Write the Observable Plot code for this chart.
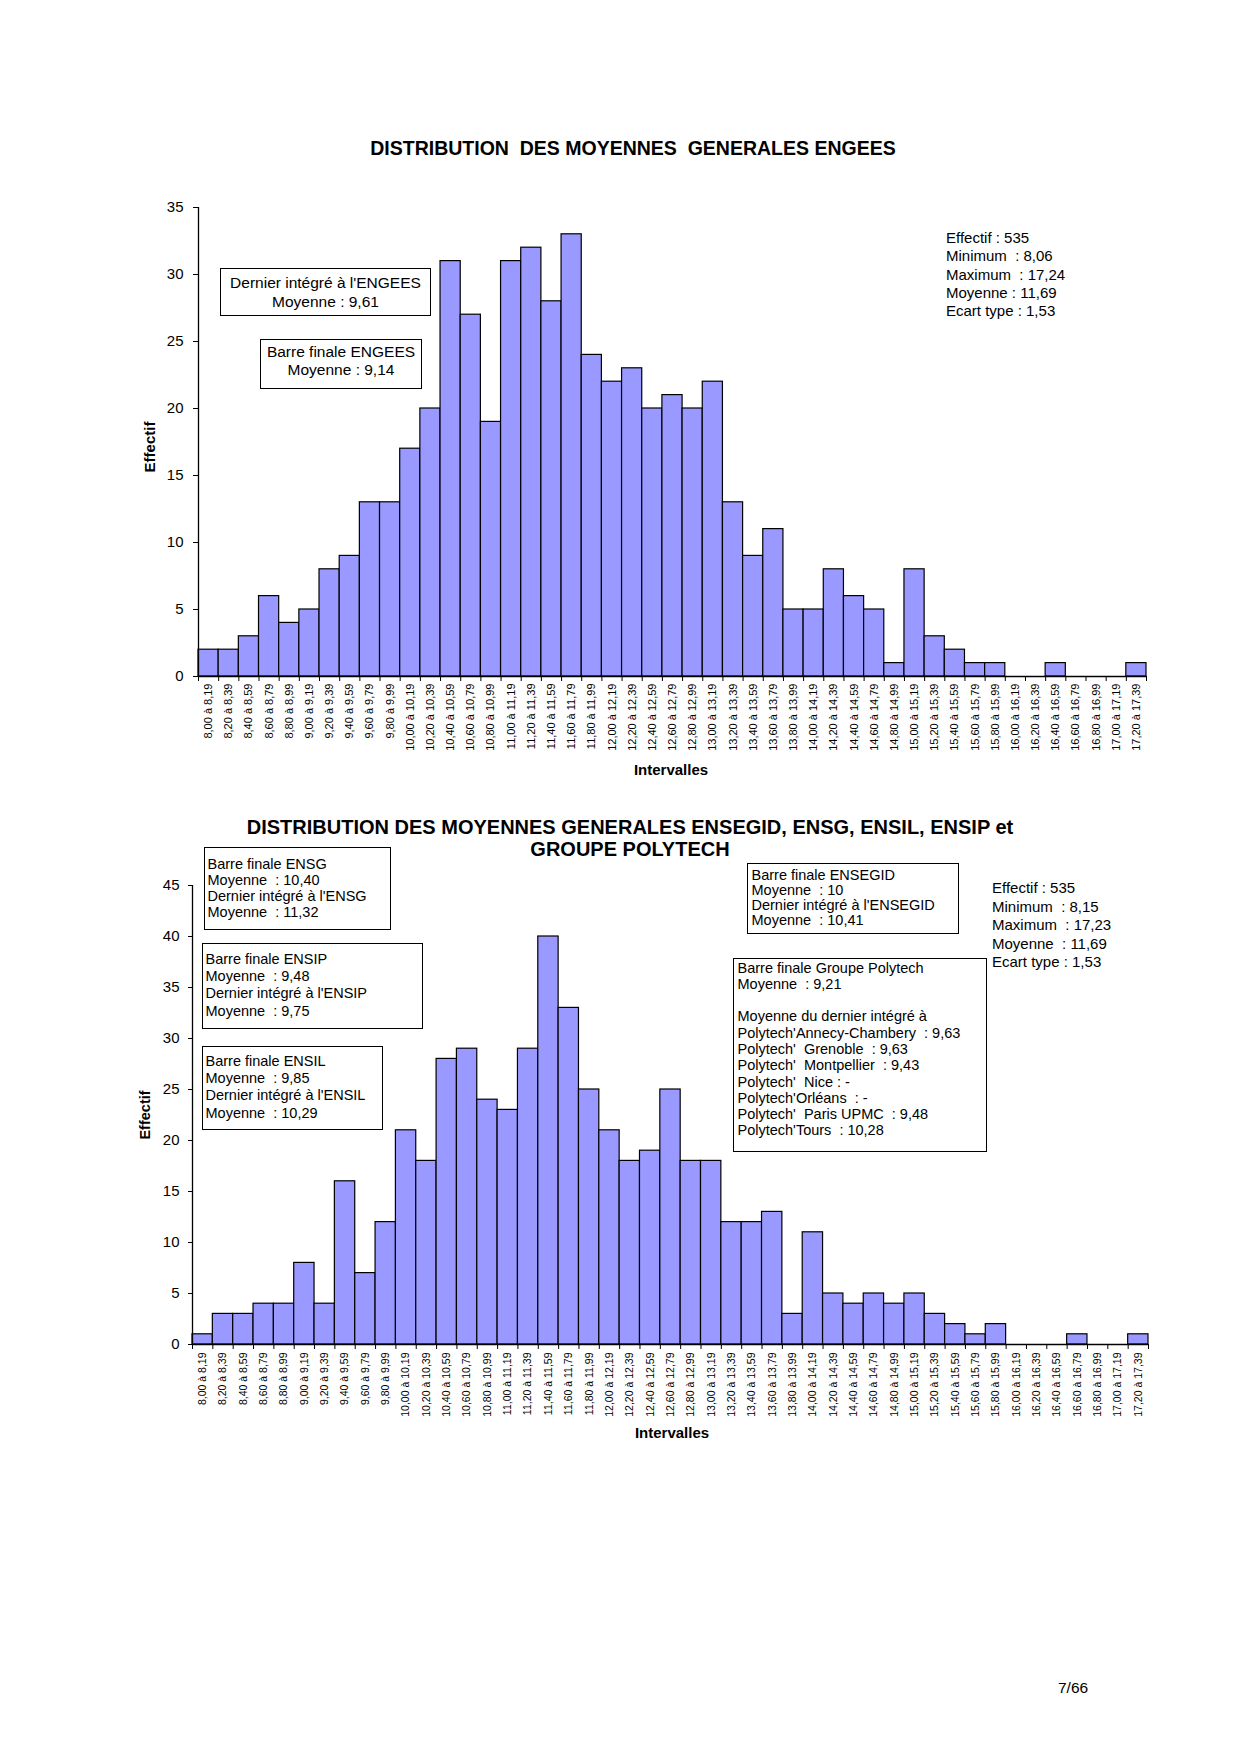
<!DOCTYPE html>
<html>
<head>
<meta charset="utf-8">
<script src="https://cdn.jsdelivr.net/npm/d3@7"></script>
<script src="https://cdn.jsdelivr.net/npm/@observablehq/plot@0.6"></script>
<style>
html, body { margin: 0; padding: 0; background: #fff; }
#page { position: relative; width: 1240px; height: 1754px; background: #fff; overflow: hidden;
  font-family: "Liberation Sans", Arial, Helvetica, sans-serif; color: #000; }
.abs { position: absolute; white-space: pre; }
.box { position: absolute; box-sizing: border-box; border: 1.5px solid #000; background: #fff; white-space: pre; }
.chart { position: absolute; left: 0; }
</style>
</head>
<body>
<div id="page"></div>
<script>
// ---------- Data ----------
const intervalles = [
  "8,00 à 8,19", "8,20 à 8,39", "8,40 à 8,59", "8,60 à 8,79", "8,80 à 8,99",
  "9,00 à 9,19", "9,20 à 9,39", "9,40 à 9,59", "9,60 à 9,79", "9,80 à 9,99",
  "10,00 à 10,19", "10,20 à 10,39", "10,40 à 10,59", "10,60 à 10,79", "10,80 à 10,99",
  "11,00 à 11,19", "11,20 à 11,39", "11,40 à 11,59", "11,60 à 11,79", "11,80 à 11,99",
  "12,00 à 12,19", "12,20 à 12,39", "12,40 à 12,59", "12,60 à 12,79", "12,80 à 12,99",
  "13,00 à 13,19", "13,20 à 13,39", "13,40 à 13,59", "13,60 à 13,79", "13,80 à 13,99",
  "14,00 à 14,19", "14,20 à 14,39", "14,40 à 14,59", "14,60 à 14,79", "14,80 à 14,99",
  "15,00 à 15,19", "15,20 à 15,39", "15,40 à 15,59", "15,60 à 15,79", "15,80 à 15,99",
  "16,00 à 16,19", "16,20 à 16,39", "16,40 à 16,59", "16,60 à 16,79", "16,80 à 16,99",
  "17,00 à 17,19", "17,20 à 17,39"
];

const effectifEngees = [
  2, 2, 3, 6, 4, 5, 8, 9, 13, 13,
  17, 20, 31, 27, 19, 31, 32, 28, 33, 24,
  22, 23, 20, 21, 20, 22, 13, 9, 11, 5,
  5, 8, 6, 5, 1, 8, 3, 2, 1, 1,
  0, 0, 1, 0, 0, 0, 1
];

const effectifGroupes = [
  1, 3, 3, 4, 4, 8, 4, 16, 7, 12,
  21, 18, 28, 29, 24, 23, 29, 40, 33, 25,
  21, 18, 19, 25, 18, 18, 12, 12, 13, 3,
  11, 5, 4, 5, 4, 5, 3, 2, 1, 2,
  0, 0, 0, 1, 0, 0, 1
];

const yTicksEngees = [0, 5, 10, 15, 20, 25, 30, 35];
const yTicksGroupes = [0, 5, 10, 15, 20, 25, 30, 35, 40, 45];

const titreEngees = "DISTRIBUTION  DES MOYENNES  GENERALES ENGEES";
const titreGroupes = ["DISTRIBUTION DES MOYENNES GENERALES ENSEGID, ENSG, ENSIL, ENSIP et", "GROUPE POLYTECH"];

const statsEngees = ["Effectif : 535", "Minimum  : 8,06", "Maximum  : 17,24", "Moyenne : 11,69", "Ecart type : 1,53"];
const statsGroupes = ["Effectif : 535", "Minimum  : 8,15", "Maximum  : 17,23", "Moyenne  : 11,69", "Ecart type : 1,53"];

const boxDernierEngees = ["Dernier intégré à l'ENGEES", "Moyenne : 9,61"];
const boxBarreEngees = ["Barre finale ENGEES", "Moyenne : 9,14"];
const boxEnsg = ["Barre finale ENSG", "Moyenne  : 10,40", "Dernier intégré à l'ENSG", "Moyenne  : 11,32"];
const boxEnsip = ["Barre finale ENSIP", "Moyenne  : 9,48", "Dernier intégré à l'ENSIP", "Moyenne  : 9,75"];
const boxEnsil = ["Barre finale ENSIL", "Moyenne  : 9,85", "Dernier intégré à l'ENSIL", "Moyenne  : 10,29"];
const boxEnsegid = ["Barre finale ENSEGID", "Moyenne  : 10", "Dernier intégré à l'ENSEGID", "Moyenne  : 10,41"];
const boxPolytech = ["Barre finale Groupe Polytech", "Moyenne  : 9,21", "", "Moyenne du dernier intégré à",
  "Polytech'Annecy-Chambery  : 9,63", "Polytech'  Grenoble  : 9,63", "Polytech'  Montpellier  : 9,43",
  "Polytech'  Nice : -", "Polytech'Orléans  : -", "Polytech'  Paris UPMC  : 9,48", "Polytech'Tours  : 10,28"];

// ---------- Helpers ----------
const page = document.getElementById("page");
const FONT = '"Liberation Sans", Arial, Helvetica, sans-serif';

function histogram(values, yTicks, o) {
  const n = values.length;
  const yMax = yTicks[yTicks.length - 1];
  const data = values.map((v, i) => ({i, v, label: intervalles[i]}));
  const svg = Plot.plot({
    width: 1240,
    height: o.height,
    marginLeft: o.marginLeft,
    marginRight: o.marginRight,
    marginTop: o.marginTop,
    marginBottom: o.marginBottom,
    style: {fontFamily: FONT, background: "transparent", color: "#000", overflow: "visible"},
    x: {type: "linear", domain: [0, n], label: null},
    y: {domain: [0, yMax], label: null},
    marks: [
      Plot.rect(data, {x1: "i", x2: d => d.i + 1, y1: 0, y2: "v", fill: "#9999ff", stroke: "#000", strokeWidth: 1.2}),
      Plot.ruleY([0], {stroke: "#000", strokeWidth: 1.3}),
      Plot.ruleX([0], {y1: 0, y2: yMax, stroke: "#000", strokeWidth: 1.3}),
      Plot.axisY({ticks: yTicks, tickSize: o.yTickSize, tickPadding: o.yTickPad, fontSize: 15, label: null}),
      Plot.axisX({ticks: d3.range(0, n + 1), tickSize: 5, tickFormat: () => "", label: null}),
      Plot.axisX({ticks: d3.range(n).map(i => i + 0.5), tickSize: 0, tickPadding: o.labelPad, tickRotate: -90,
        tickFormat: d => intervalles[Math.floor(d)], fontSize: o.labelSize, label: null})
    ]
  });
  const wrap = document.createElement("div");
  wrap.className = "chart";
  wrap.style.top = o.top + "px";
  wrap.appendChild(svg);
  page.appendChild(wrap);
}

function textBlock(lines, s) {
  const d = document.createElement("div");
  d.className = "abs";
  Object.assign(d.style, {fontFamily: FONT}, s);
  d.textContent = lines.join("\n");
  page.appendChild(d);
  return d;
}

function box(lines, s) {
  const d = document.createElement("div");
  d.className = "box";
  Object.assign(d.style, {fontFamily: FONT}, s);
  d.textContent = lines.join("\n");
  page.appendChild(d);
  return d;
}

function rotatedLabel(txt, cx, cy, size) {
  const d = document.createElement("div");
  d.className = "abs";
  Object.assign(d.style, {left: cx + "px", top: cy + "px", fontSize: size + "px", fontWeight: "bold",
    fontFamily: FONT, transform: "translate(-50%, -50%) rotate(-90deg)", lineHeight: "1"});
  d.textContent = txt;
  page.appendChild(d);
}

// ---------- Chart 1 : ENGEES ----------
histogram(effectifEngees, yTicksEngees, {
  top: 180, height: 600, marginLeft: 198, marginRight: 94, marginTop: 27, marginBottom: 104,
  yTickSize: 5, yTickPad: 10, labelPad: 7, labelSize: 11
});

textBlock([titreEngees], {left: "333px", width: "600px", top: "136px", textAlign: "center",
  fontSize: "19.5px", fontWeight: "bold", lineHeight: "24px"});
textBlock(["Intervalles"], {left: "571px", width: "200px", top: "761px", textAlign: "center",
  fontSize: "15px", fontWeight: "bold", lineHeight: "18px"});
rotatedLabel("Effectif", 149, 447, 15);
textBlock(statsEngees, {left: "946px", top: "229px", fontSize: "15px", lineHeight: "18.3px"});
box(boxDernierEngees, {left: "220px", top: "268px", width: "211px", height: "48px", textAlign: "center",
  fontSize: "15.5px", lineHeight: "19px", paddingTop: "4px"});
box(boxBarreEngees, {left: "260px", top: "339px", width: "162px", height: "50px", textAlign: "center",
  fontSize: "15.5px", lineHeight: "18px", paddingTop: "2.5px"});

// ---------- Chart 2 : ENSEGID, ENSG, ENSIL, ENSIP, Polytech ----------
histogram(effectifGroupes, yTicksGroupes, {
  top: 870, height: 590, marginLeft: 192, marginRight: 92, marginTop: 15, marginBottom: 116,
  yTickSize: 4, yTickPad: 9, labelPad: 8, labelSize: 10.5
});

textBlock(titreGroupes, {left: "130px", width: "1000px", top: "816px", textAlign: "center",
  fontSize: "20px", fontWeight: "bold", lineHeight: "22px"});
textBlock(["Intervalles"], {left: "572px", width: "200px", top: "1424px", textAlign: "center",
  fontSize: "15px", fontWeight: "bold", lineHeight: "18px"});
rotatedLabel("Effectif", 145, 1115, 14.5);
textBlock(statsGroupes, {left: "992px", top: "879px", fontSize: "15px", lineHeight: "18.5px"});

box(boxEnsg, {left: "204px", top: "847px", width: "187px", height: "83px", fontSize: "14.5px",
  lineHeight: "16px", paddingTop: "7.5px", paddingLeft: "2.5px"});
box(boxEnsip, {left: "202px", top: "943px", width: "221px", height: "86px", fontSize: "14.5px",
  lineHeight: "17.3px", paddingTop: "6.9px", paddingLeft: "2.5px"});
box(boxEnsil, {left: "202px", top: "1046px", width: "181px", height: "84px", fontSize: "14.5px",
  lineHeight: "17.3px", paddingTop: "5.9px", paddingLeft: "2.5px"});
box(boxEnsegid, {left: "747px", top: "863px", width: "212px", height: "71px", fontSize: "14.5px",
  lineHeight: "15px", paddingTop: "4px", paddingLeft: "3.5px"});
box(boxPolytech, {left: "733px", top: "958px", width: "254px", height: "194px", fontSize: "14.5px",
  lineHeight: "16.3px", paddingTop: "0.5px", paddingLeft: "3.5px"});

// ---------- Page number ----------
textBlock(["7/66"], {left: "1058px", top: "1679px", fontSize: "15.5px", lineHeight: "18px"});
</script>
</body>
</html>
